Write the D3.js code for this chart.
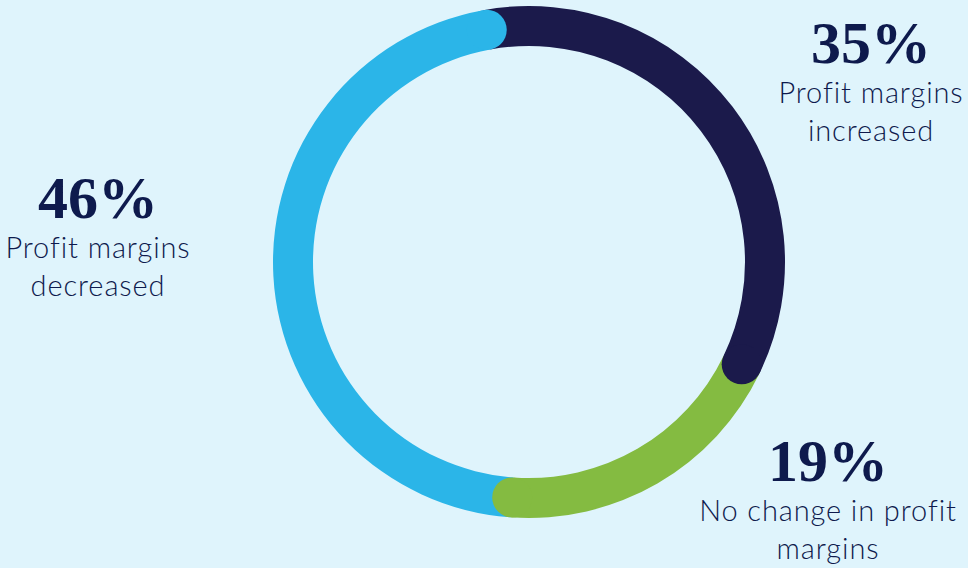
<!DOCTYPE html>
<html>
<head>
<meta charset="utf-8">
<script src="https://cdn.jsdelivr.net/npm/d3@7"></script>
<style>
  html, body { margin: 0; padding: 0; background: #dff4fc; }
  .pct { font-family: "Liberation Serif", serif; font-weight: bold; fill: #0e1a4d; }
  .lbl { font-family: Lato, sans-serif; font-weight: 300; fill: #0e1a4d; letter-spacing: 0.9px; }
</style>
</head>
<body>
<div id="vis"></div>
<script>
// Survey share of companies by profit margin change
var categories = ["Profit margins increased", "No change in profit margins", "Profit margins decreased"];
var values = [35, 19, 46];
var pctLabels = ["35%", "19%", "46%"];
var labelLines = [["Profit margins", "increased"], ["No change in profit", "margins"], ["Profit margins", "decreased"]];
var colors = ["#1b1a4b", "#84bb41", "#2bb5e8"];

var width = 968;
var height = 568;

// ring geometry
var cx = 529, cy = 262;
var outerR = 256, ringW = 40;
var midR = outerR - ringW / 2;
var startOffset = -0.18; // radians, ring is rotated a little anticlockwise

// where each label block sits (center x, baseline of the percentage)
var labelPos = [
    { x: 871, y: 63 },
    { x: 828, y: 481 },
    { x: 98, y: 218 }
];

var svg = d3.select("#vis").append("svg")
    .attr("width", width)
    .attr("height", height);

svg.append("rect").attr("width", width).attr("height", height).attr("fill", "#dff4fc");

var g = svg.append("g").attr("transform", "translate(" + cx + "," + cy + ")");

var pie = d3.pie().sort(null).value(function(d) { return d; })
    .startAngle(startOffset).endAngle(startOffset + 2 * Math.PI);
var arcs = pie(values);

var arc = d3.arc().innerRadius(outerR - ringW).outerRadius(outerR);

// flat segments
g.selectAll("path.seg").data(arcs).enter().append("path")
    .attr("class", "seg")
    .attr("d", arc)
    .attr("fill", function(d, i) { return colors[i]; });

// round caps at the end of each segment, drawn over the next one
g.selectAll("circle.cap").data(arcs).enter().append("circle")
    .attr("class", "cap")
    .attr("cx", function(d) { return midR * Math.sin(d.endAngle); })
    .attr("cy", function(d) { return -midR * Math.cos(d.endAngle); })
    .attr("r", ringW / 2)
    .attr("fill", function(d, i) { return colors[i]; });

// labels
var lab = svg.selectAll("g.label").data(categories).enter().append("g")
    .attr("class", "label")
    .attr("transform", function(d, i) { return "translate(" + labelPos[i].x + "," + labelPos[i].y + ")"; });

lab.append("text")
    .attr("class", "pct")
    .attr("text-anchor", "middle")
    .attr("font-size", 60)
    .text(function(d, i) { return pctLabels[i]; });

lab.each(function(d, i) {
    d3.select(this).selectAll("text.lbl").data(labelLines[i]).enter().append("text")
        .attr("class", "lbl")
        .attr("text-anchor", "middle")
        .attr("font-size", 29)
        .attr("y", function(t, j) { return 40 + j * 38; })
        .text(function(t) { return t; });
});
</script>
</body>
</html>
